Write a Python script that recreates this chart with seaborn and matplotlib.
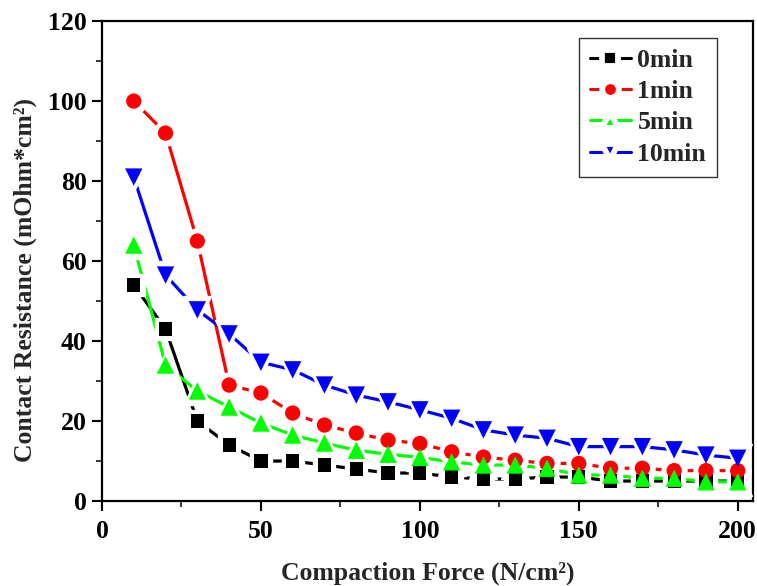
import numpy as np
import pandas as pd
import seaborn as sns
import matplotlib
matplotlib.use("Agg")
import matplotlib.pyplot as plt
from matplotlib.lines import Line2D
from matplotlib.ticker import MultipleLocator

# ---- data ----
force = [10, 20, 30, 40, 50, 60, 70, 80, 90, 100,
         110, 120, 130, 140, 150, 160, 170, 180, 190, 200]
series_names = ["0min", "1min", "5min", "10min"]
r_0min = [54, 43, 20, 14, 10, 10, 9, 8, 7, 7,
          6, 5.5, 5.5, 6, 6, 5, 5, 5, 5, 5]
r_1min = [100, 92, 65, 29, 27, 22, 19, 17, 15.2, 14.4,
          12.3, 11, 10.2, 9.4, 9.4, 8.2, 8.2, 7.6, 7.6, 7.6]
r_5min = [64, 34, 27.5, 23.5, 19.5, 16.5, 14.5, 12.7, 11.7, 10.9,
          9.8, 9, 9, 8.2, 6.5, 6.5, 5.7, 5.7, 4.8, 4.8]
r_10min = [81, 56.5, 47.8, 41.8, 34.7, 32.8, 29, 26.5, 24.8, 22.8,
           20.7, 17.8, 16.5, 15.7, 13.6, 13.6, 13.6, 12.8, 11.5, 10.7]
x_ticks = [0, 50, 100, 150, 200]
y_ticks = [0, 20, 40, 60, 80, 100, 120]

values = {"0min": r_0min, "1min": r_1min, "5min": r_5min, "10min": r_10min}
df = pd.DataFrame([
    {"force": f, "res": v, "series": name}
    for name in series_names for f, v in zip(force, values[name])
])

palette = {"0min": "#000000", "1min": "#ff0000", "5min": "#00ff00", "10min": "#0000ff"}
markers = {"0min": "s", "1min": "o", "5min": "^", "10min": "v"}
msz = {"0min": 9.5, "1min": 11, "5min": 12.5, "10min": 12.5}  # marker size (pt)
sizes = {k: v ** 2 for k, v in msz.items()}

FS = 18.5

sns.set_style("ticks")
plt.rcParams["font.family"] = ["Liberation Serif", "DejaVu Serif"]
plt.rcParams["font.weight"] = "bold"
plt.rcParams["axes.labelweight"] = "bold"

fig = plt.figure(figsize=(7.57, 5.86), dpi=100)
ax = fig.add_axes([0.1347, 0.145, 0.8600, 0.8190])

# lines
sns.lineplot(data=df, x="force", y="res", hue="series", hue_order=series_names,
             palette=palette, linewidth=2.3, legend=False, ax=ax, zorder=2)
# white halos giving the gap between line and symbol
for name in series_names:
    sub = df[df.series == name]
    ax.plot(sub["force"], sub["res"], linestyle="none", marker=markers[name],
            markersize=msz[name] + 7, markerfacecolor="white",
            markeredgecolor="white", zorder=3)
# symbols
sns.scatterplot(data=df, x="force", y="res", hue="series", hue_order=series_names,
                palette=palette, style="series", style_order=series_names,
                markers=markers, size="series", sizes=sizes,
                edgecolor="none", linewidth=0, legend=False, ax=ax, zorder=4)

ax.set_xlim(0, 204.8)
ax.set_ylim(0, 120)
ax.set_xticks(x_ticks)
ax.set_yticks(y_ticks)
ax.xaxis.set_minor_locator(MultipleLocator(25))
ax.yaxis.set_minor_locator(MultipleLocator(10))
for s in ax.spines.values():
    s.set_linewidth(1.6)
    s.set_color("black")
ax.tick_params(which="major", direction="out", length=7, width=1.5,
               labelsize=FS, colors="black")
ax.tick_params(axis="y", which="major", pad=4)
ax.tick_params(axis="x", which="major", pad=7)
ax.tick_params(which="minor", direction="out", length=4, width=1.3)
for lab in ax.get_xticklabels() + ax.get_yticklabels():
    lab.set_fontweight("bold")

ax.set_xlabel("Compaction Force (N/cm²)", fontsize=FS, fontweight="bold", labelpad=13)
ax.set_ylabel("Contact Resistance (mOhm*cm²)", fontsize=FS, fontweight="bold")
ax.yaxis.set_label_coords(-0.10, 0.461)

handles = [Line2D([], [], color=palette[n], lw=2.2, marker=markers[n], markersize=12,
                  markerfacecolor=palette[n], markeredgecolor="white", markeredgewidth=4.2)
           for n in series_names]
leg = ax.legend(handles, series_names, loc="upper right", bbox_to_anchor=(0.945, 0.965),
                borderaxespad=0, fancybox=False, framealpha=1, edgecolor="#333333",
                prop={"family": "Liberation Serif", "weight": "bold", "size": FS},
                handlelength=1.6, handletextpad=0.25, labelspacing=0.32,
                borderpad=0.43)
leg.get_frame().set_linewidth(1.0)

fig.savefig("out.png", dpi=100)
